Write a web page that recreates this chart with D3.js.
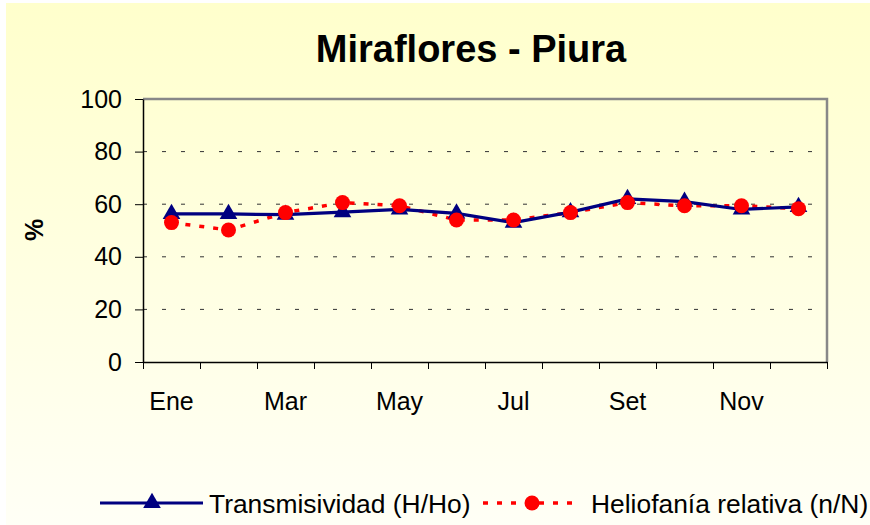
<!DOCTYPE html>
<html>
<head>
<meta charset="utf-8">
<script src="https://cdn.jsdelivr.net/npm/d3@7"></script>
<style>
  body { margin: 0; background: #fff; }
  svg { display: block; font-family: "Liberation Sans", Arial, sans-serif; }
</style>
</head>
<body>
<svg width="870" height="525"></svg>
<script>
/* datos */
var meses = ["Ene", "Feb", "Mar", "Abr", "May", "Jun", "Jul", "Ago", "Set", "Oct", "Nov", "Dic"];
var transmisividad = [56.3, 56.3, 56, 57, 58, 56.5, 53, 57, 62, 61, 58, 59];
var heliofania = [53, 50.2, 56.8, 60.6, 59.4, 54, 54, 56.8, 60.6, 59.4, 59.4, 58.3];
var yTicks = [0, 20, 40, 60, 80, 100];

var svg = d3.select("svg");
var plot = {left: 143, right: 827, top: 99, bottom: 362};

/* fondo con degradado */
var grad = svg.append("defs").append("linearGradient")
    .attr("id", "fondo")
    .attr("x1", 0).attr("y1", 0).attr("x2", 0).attr("y2", 1);
grad.append("stop").attr("offset", "0%").attr("stop-color", "#ffffcc");
grad.append("stop").attr("offset", "100%").attr("stop-color", "#fffff6");

svg.append("rect")
    .attr("x", 6).attr("y", 3)
    .attr("width", 864).attr("height", 522)
    .attr("fill", "url(#fondo)");

/* escalas */
var x = d3.scaleBand()
    .domain(meses)
    .range([plot.left, plot.right]);

var xLin = d3.scaleLinear()
    .domain([0, meses.length])
    .range([plot.left, plot.right]);

var y = d3.scaleLinear()
    .domain([0, 100])
    .range([plot.bottom, plot.top]);

/* lineas de grilla */
svg.append("g")
  .selectAll("line")
  .data(yTicks.filter(function(d) { return d > 0 && d < 100; }))
  .enter().append("line")
    .attr("x1", plot.left).attr("x2", plot.right)
    .attr("y1", function(d) { return y(d); })
    .attr("y2", function(d) { return y(d); })
    .attr("stroke", "#333")
    .attr("stroke-width", 1)
    .attr("stroke-dasharray", "4,15")
    .attr("stroke-dashoffset", -19);

/* borde gris arriba y derecha */
svg.append("path")
    .attr("d", "M" + plot.left + "," + y(100) + "H" + plot.right + "V" + y(0))
    .attr("fill", "none")
    .attr("stroke", "#888")
    .attr("stroke-width", 2.5);

/* eje y */
var yAxis = svg.append("g")
    .attr("transform", "translate(" + plot.left + ",0)")
    .call(d3.axisLeft(y).tickValues(yTicks).tickSize(8).tickPadding(13).tickSizeOuter(0));
yAxis.select(".domain").attr("stroke", "#000").attr("stroke-width", 1.5);
yAxis.selectAll(".tick line").attr("stroke", "#000");
yAxis.selectAll("text")
    .attr("font-size", 25)
    .attr("font-family", "Liberation Sans, Arial, sans-serif")
    .attr("fill", "#000");

/* eje x: marcas entre meses */
var xAxis = svg.append("g")
    .attr("transform", "translate(0," + plot.bottom + ")")
    .call(d3.axisBottom(xLin).ticks(12).tickSize(7).tickFormat("").tickSizeOuter(0));
xAxis.select(".domain").attr("stroke", "#000").attr("stroke-width", 1.5);
xAxis.selectAll(".tick line").attr("stroke", "#000");

/* etiquetas de meses (una si, una no) */
svg.append("g")
  .selectAll("text")
  .data(meses.filter(function(d, i) { return i % 2 === 0; }))
  .enter().append("text")
    .attr("x", function(d) { return x(d) + x.bandwidth() / 2; })
    .attr("y", 410)
    .attr("text-anchor", "middle")
    .attr("font-size", 25)
    .attr("fill", "#000")
    .text(function(d) { return d; });

/* series */
var linea = function(vals) {
  return d3.line()
    .x(function(d, i) { return x(meses[i]) + x.bandwidth() / 2; })
    .y(function(d) { return y(d); })(vals);
};

svg.append("path")
    .attr("d", linea(heliofania))
    .attr("fill", "none")
    .attr("stroke", "#ff0000")
    .attr("stroke-width", 3.5)
    .attr("stroke-dasharray", "5,9");

svg.append("path")
    .attr("d", linea(transmisividad))
    .attr("fill", "none")
    .attr("stroke", "#000080")
    .attr("stroke-width", 3.2);

var triangulo = d3.symbol().type(d3.symbolTriangle).size(135);

svg.append("g")
  .selectAll("path")
  .data(transmisividad)
  .enter().append("path")
    .attr("d", triangulo)
    .attr("transform", function(d, i) { return "translate(" + (x(meses[i]) + x.bandwidth() / 2) + "," + y(d) + ")"; })
    .attr("fill", "#000080");

svg.append("g")
  .selectAll("circle")
  .data(heliofania)
  .enter().append("circle")
    .attr("cx", function(d, i) { return x(meses[i]) + x.bandwidth() / 2; })
    .attr("cy", function(d) { return y(d); })
    .attr("r", 7.5)
    .attr("fill", "#ff0000");

/* titulo */
svg.append("text")
    .attr("x", 471)
    .attr("y", 62)
    .attr("text-anchor", "middle")
    .attr("font-size", 38)
    .attr("font-weight", "bold")
    .text("Miraflores - Piura");

svg.append("text")
    .attr("transform", "translate(43,230) rotate(-90)")
    .attr("text-anchor", "middle")
    .attr("font-size", 25)
    .attr("font-weight", "bold")
    .text("%");

/* leyenda */
var ley = svg.append("g").attr("transform", "translate(0,503)");

ley.append("line")
    .attr("x1", 100).attr("x2", 203)
    .attr("stroke", "#000080").attr("stroke-width", 3.2);
ley.append("path")
    .attr("d", triangulo)
    .attr("transform", "translate(152,0)")
    .attr("fill", "#000080");
ley.append("text")
    .attr("x", 209).attr("y", 9.5)
    .attr("font-size", 26.4)
    .text("Transmisividad (H/Ho)");

ley.append("line")
    .attr("x1", 483).attr("x2", 580)
    .attr("stroke", "#ff0000").attr("stroke-width", 3.5)
    .attr("stroke-dasharray", "5,9");
ley.append("circle")
    .attr("cx", 532).attr("r", 7.5)
    .attr("fill", "#ff0000");
ley.append("text")
    .attr("x", 591).attr("y", 9.5)
    .attr("font-size", 26.4)
    .text("Heliofanía relativa (n/N)");
</script>
</body>
</html>
